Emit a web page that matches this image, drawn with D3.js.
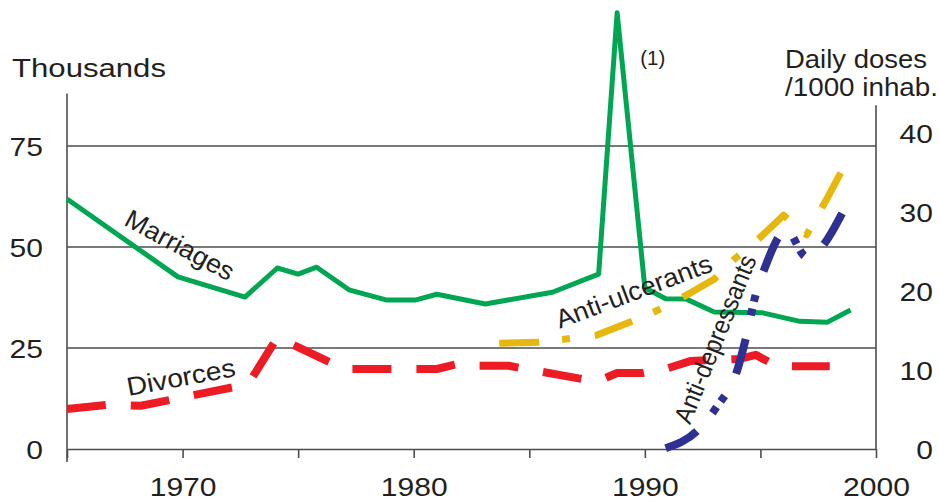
<!DOCTYPE html>
<html>
<head>
<meta charset="utf-8">
<script src="https://cdn.jsdelivr.net/npm/d3@7"></script>
<style>
  body { margin: 0; background: #fff; }
  svg text { font-family: "Liberation Sans", Arial, Helvetica, sans-serif; fill: #231f20; }
  .grid line { stroke: #4d4d4d; stroke-width: 1.3; }
  .axis path, .axis line, .frame { stroke: #4d4d4d; stroke-width: 1.6; fill: none; }
  .series { fill: none; stroke-linejoin: round; }
</style>
</head>
<body>
<div id="chart"></div>
<script>
// values
var marriageYears = [1965, 1969.8, 1972.7, 1974.1, 1975, 1975.8, 1977.2, 1978.8, 1980.1, 1981, 1983.1, 1986, 1988, 1988.8, 1990, 1990.9, 1991.8, 1993, 1995.1, 1996.7, 1997.9, 1998.9];
var marriages = [61.9, 42.6, 37.6, 44.8, 43.3, 45.0, 39.4, 36.9, 36.9, 38.3, 35.9, 38.8, 43.3, 108, 39.9, 37.2, 37.1, 33.9, 33.7, 31.6, 31.4, 34.4];

var divorceYears = [1965, 1966.7, 1968.2, 1972.2, 1972.9, 1974.1, 1977, 1981, 1982, 1982.8, 1984.1, 1987.3, 1988.1, 1988.8, 1989.9, 1991, 1992, 1994.1, 1994.8, 1995.7, 1998];
var divorces = [9.9, 10.9, 10.7, 15.3, 16.6, 27.6, 19.8, 19.8, 21.2, 20.6, 20.6, 17.3, 17.1, 18.8, 18.8, 20.0, 21.8, 22.3, 23.3, 20.5, 20.5];

// daily doses per 1000 inhabitants (right axis)
var ulcerYears = [1983.7, 1985.4, 1987.9, 1990, 1991, 1992, 1993, 1993.9, 1995, 1996, 1997, 1997.9, 1998.7];
var antiUlcerants = [13.4, 13.5, 14.4, 16.8, 18.2, 19.8, 21.5, 24.1, 26.8, 29.6, 27.1, 31.8, 36.2];

var depressYears = [1990.9, 1992.3, 1993.1, 1994, 1994.4, 1994.8, 1995.2, 1995.85, 1996.1, 1997, 1998.7];
var antiDepressants = [0.1, 2.4, 5.3, 10, 14.4, 19.6, 23, 27.1, 27.8, 24.3, 30.8];

// ticks
var yearTicks = [1965, 1970, 1975, 1980, 1985, 1990, 1995, 2000];
var yearLabels = [1970, 1980, 1990, 2000];
var leftTicks = [0, 25, 50, 75];
var rightTicks = [0, 10, 20, 30, 40];

function visualize() {
  var width = 939, height = 502;
  var digitW = 16.7; // stretched look of the original digits

  var x = d3.scaleLinear().domain([1965, 2000]).range([67, 876]);
  var yL = d3.scaleLinear().domain([0, 75]).range([449, 146]);
  var yR = d3.scaleLinear().domain([0, 40]).range([449, 133]);

  var svg = d3.select("#chart").append("svg")
    .attr("width", width)
    .attr("height", height);

  // 1. gridlines (left scale)
  svg.append("g").attr("class", "grid")
    .selectAll("line")
    .data(leftTicks.filter(function(d) { return d > 0; }))
    .enter().append("line")
    .attr("x1", x(1965)).attr("x2", x(2000))
    .attr("y1", function(d) { return yL(d); })
    .attr("y2", function(d) { return yL(d); });

  // 2. x axis
  var xAxis = svg.append("g")
    .attr("class", "axis")
    .attr("transform", "translate(0," + yL(0) + ")")
    .call(d3.axisBottom(x).tickValues(yearTicks).tickSize(9).tickSizeOuter(0)
      .tickFormat(function(d) { return yearLabels.indexOf(d) >= 0 ? d : ""; }));
  xAxis.selectAll("text")
    .attr("y", 47).attr("dy", 0)
    .style("font-size", "26px")
    .attr("textLength", function(d) { return yearLabels.indexOf(d) >= 0 ? String(d).length * digitW : null; })
    .attr("lengthAdjust", "spacingAndGlyphs");

  // 3. vertical axis lines
  svg.append("line").attr("class", "frame")
    .attr("x1", x(1965)).attr("x2", x(1965))
    .attr("y1", yL(0) + 13).attr("y2", yL(88));
  svg.append("line").attr("class", "frame")
    .attr("x1", x(2000)).attr("x2", x(2000))
    .attr("y1", yL(0)).attr("y2", yR(43.5));

  // 4. tick labels, left and right
  var leftAxis = svg.append("g")
    .attr("transform", "translate(" + x(1965) + ",0)")
    .call(d3.axisLeft(yL).tickValues(leftTicks).tickSize(0).tickPadding(24));
  leftAxis.select(".domain").remove();
  leftAxis.selectAll("text")
    .style("font-size", "26px")
    .attr("dy", "0.36em")
    .attr("textLength", function(d) { return String(d).length * digitW; })
    .attr("lengthAdjust", "spacingAndGlyphs");

  var rightAxis = svg.append("g")
    .attr("transform", "translate(" + x(2000) + ",0)")
    .call(d3.axisRight(yR).tickValues(rightTicks).tickSize(0));
  rightAxis.select(".domain").remove();
  rightAxis.selectAll("text")
    .style("font-size", "26px")
    .attr("text-anchor", "end")
    .attr("x", 57)
    .attr("dy", "0.36em")
    .attr("textLength", function(d) { return String(d).length * digitW; })
    .attr("lengthAdjust", "spacingAndGlyphs");

  // 5. the four series
  var lineL = d3.line().x(function(d) { return x(d[0]); }).y(function(d) { return yL(d[1]); });
  var lineR = d3.line().x(function(d) { return x(d[0]); }).y(function(d) { return yR(d[1]); });

  svg.append("path").datum(d3.zip(divorceYears, divorces))
    .attr("class", "series")
    .attr("stroke", "#ed1c24").attr("stroke-width", 8)
    .attr("stroke-dasharray", "39,25")
    .attr("stroke-linejoin", "miter")
    .attr("d", lineL);

  svg.append("path").datum(d3.zip(marriageYears, marriages))
    .attr("class", "series")
    .attr("stroke", "#00a651").attr("stroke-width", 5)
    .attr("stroke-linejoin", "miter")
    .attr("d", lineL);

  svg.append("path").datum(d3.zip(ulcerYears, antiUlcerants))
    .attr("class", "series")
    .attr("stroke", "#e6b70c").attr("stroke-width", 7)
    .attr("stroke-dasharray", "40,23,8,25")
    .attr("d", lineR);

  svg.append("path").datum(d3.zip(depressYears, antiDepressants))
    .attr("class", "series")
    .attr("stroke", "#2e3192").attr("stroke-width", 8)
    .attr("stroke-dasharray", "36,24,7,7,7,25")
    .attr("d", lineR.curve(d3.curveMonotoneX));

  // 6. titles and series labels
  svg.append("text").attr("x", 12).attr("y", 77)
    .style("font-size", "26px")
    .attr("textLength", 154).attr("lengthAdjust", "spacingAndGlyphs")
    .text("Thousands");
  svg.append("text").attr("x", 785).attr("y", 68)
    .style("font-size", "26px")
    .attr("textLength", 142).attr("lengthAdjust", "spacingAndGlyphs")
    .text("Daily doses");
  svg.append("text").attr("x", 785).attr("y", 96)
    .style("font-size", "26px")
    .attr("textLength", 153).attr("lengthAdjust", "spacingAndGlyphs")
    .text("/1000 inhab.");
  svg.append("text").attr("x", x(1989.8)).attr("y", yL(95.0))
    .style("font-size", "20px")
    .attr("textLength", 25).attr("lengthAdjust", "spacingAndGlyphs")
    .text("(1)");

  var labels = [
    { text: "Marriages", year: 1969.7, value: 48.5, scale: yL, angle: 28.3, len: 120 },
    { text: "Divorces", year: 1970.0, value: 15.6, scale: yL, angle: -10.5, len: 110 },
    { text: "Anti-ulcerants", year: 1989.66, value: 18.9, scale: yR, angle: -20.6, len: 165 },
    { text: "Anti-depressants", year: 1993.4, value: 13.5, scale: yR, angle: -68, len: 179 }
  ];

  svg.selectAll(".label")
    .data(labels)
    .enter().append("text")
    .attr("class", "label")
    .attr("transform", function(d) {
      return "translate(" + x(d.year) + "," + d.scale(d.value) + ") rotate(" + d.angle + ")";
    })
    .attr("text-anchor", "middle")
    .style("font-size", "26px")
    .attr("textLength", function(d) { return d.len; })
    .attr("lengthAdjust", "spacingAndGlyphs")
    .text(function(d) { return d.text; });
}

visualize();
</script>
</body>
</html>
